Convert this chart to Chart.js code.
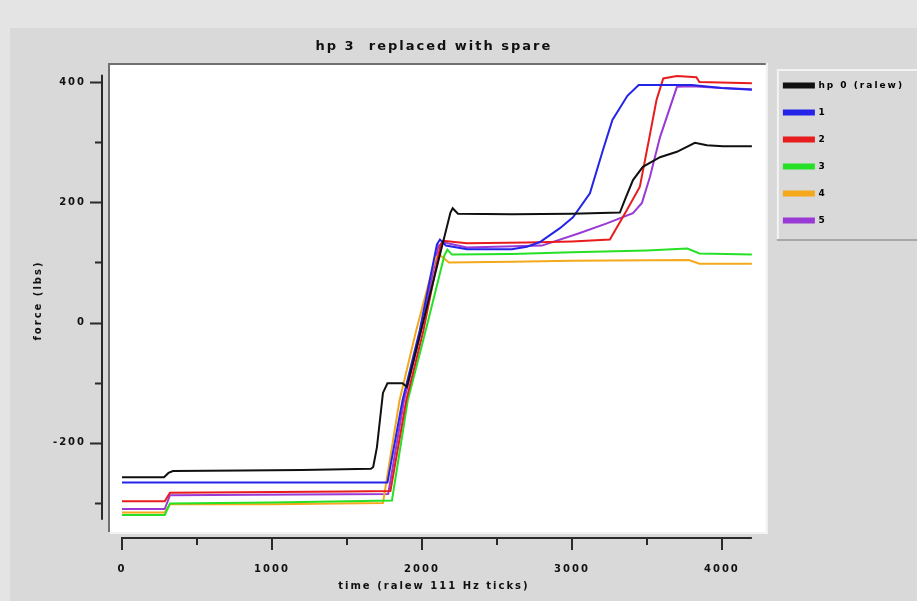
<!DOCTYPE html>
<html>
<head>
<meta charset="utf-8">
<script src="https://cdn.jsdelivr.net/npm/chart.js@4.4.0/dist/chart.umd.min.js"></script>
<style>
  html, body { margin: 0; padding: 0; background: #d9d9d9; }
  canvas { display: block; }
</style>
</head>
<body>
<canvas id="forceGraph" width="917" height="601"></canvas>
<script>
"use strict"

// traces: [time (ralew ticks), force (lbs)]
const hp0 = [[0,-257],[280,-257],[310,-250],[340,-247],[800,-246],[1200,-245],[1660,-243],[1675,-240],[1700,-207],
  [1740,-117],[1770,-101],[1870,-101],[1900,-107],[2190,183],[2205,190],[2240,181],[2600,180],[3000,181],[3320,183],
  [3353,204],[3407,237],[3473,259],[3587,275],[3700,284],[3820,299],[3900,295],[4007,293],[4200,293]];
const hp1 = [[0,-266],[1770,-266],[1870,-130],[1985,-13],[2100,130],[2120,138],[2160,128],[2300,122],[2600,122],
  [2700,126],[2787,134],[2920,157],[3007,175],[3120,215],[3207,287],[3270,337],[3370,377],[3445,395],[3800,395],
  [4000,390],[4200,387]];
const hp2 = [[0,-297],[285,-297],[320,-283],[800,-282],[1500,-281],[1790,-280],[1895,-130],[2010,-13],[2125,130],
  [2140,136],[2300,132],[2700,133],[3000,135],[3253,138],[3364,186],[3453,226],[3509,298],[3564,370],[3609,406],
  [3700,410],[3830,408],[3850,400],[4200,398]];
const hp3 = [[0,-320],[285,-320],[320,-301],[1000,-299],[1800,-296],[1905,-130],[2025,-13],[2150,112],[2170,121],
  [2200,113],[2600,114],[3000,117],[3500,120],[3770,123],[3850,115],[4200,113]];
const hp4 = [[0,-316],[285,-316],[320,-302],[1000,-302],[1740,-300],[1850,-130],[1960,-15],[2090,108],[2120,112],
  [2180,100],[2600,101],[3000,103],[3780,104],[3850,98],[4200,98]];
const hp5 = [[0,-310],[285,-310],[320,-287],[1775,-285],[1880,-130],[1995,-13],[2110,128],[2150,133],[2300,125],
  [2800,128],[3053,149],[3233,165],[3407,182],[3467,199],[3520,242],[3587,308],[3700,392],[3800,393],[4000,390],
  [4200,388]];

const traces = [hp0, hp1, hp2, hp3, hp4, hp5];
const traceNames = ['hp 0 (ralew)', '1', '2', '3', '4', '5'];
const traceColors = ['#101010', '#2424e8', '#e81c1c', '#26e026', '#f4a81a', '#9a3ad6'];

const xTickValues = [0, 1000, 2000, 3000, 4000];
const xMinorValues = [500, 1500, 2500, 3500];
const yTickValues = [-200, 0, 200, 400];
const yMinorValues = [-300, -100, 100, 300];
const xAxisSpan = [0, 4200];
const yAxisSpan = [-328, 412];

const FONT = '"DejaVu Sans", Verdana, sans-serif';
const SPACING = '2px';

// grey window, sunken white plot well, raised legend frame and the offset axes
const framePlugin = {
  id: 'frame',
  beforeUpdate: (chart) => { chart.ctx.letterSpacing = SPACING; },
  beforeDraw: (chart) => {
    const { ctx, chartArea: a } = chart;
    ctx.save();
    ctx.fillStyle = '#e4e4e4';
    ctx.fillRect(0, 0, chart.width, chart.height);
    ctx.fillStyle = '#d9d9d9';
    ctx.fillRect(10, 28, chart.width - 10, chart.height - 28);

    const l = a.left + 8, t = a.top + 2, r = a.right, b = a.bottom - 6;
    ctx.fillStyle = '#ffffff';
    ctx.fillRect(l, t, r - l, b - t);
    ctx.fillStyle = '#707070';
    ctx.fillRect(l - 2, t - 2, r - l + 2, 2);
    ctx.fillRect(l - 2, t - 2, 2, b - t + 2);
    ctx.fillStyle = '#f3f3f3';
    ctx.fillRect(l, b, r - l + 2, 2);
    ctx.fillRect(r, t - 2, 2, b - t + 4);

    const lg = chart.legend;
    if (lg && lg.legendHitBoxes && lg.legendHitBoxes.length) {
      const last = lg.legendHitBoxes[lg.legendHitBoxes.length - 1];
      const fl = lg.left + 11, ft = a.top + 6, fb = last.top + last.height + 14;
      ctx.fillStyle = '#f3f3f3';
      ctx.fillRect(fl, ft, chart.width - fl, 2);
      ctx.fillRect(fl, ft, 2, fb - ft);
      ctx.fillStyle = '#a8a8a8';
      ctx.fillRect(fl, fb, chart.width - fl, 2);
    }
    ctx.restore();
    ctx.letterSpacing = SPACING;
  },
  beforeDatasetsDraw: (chart) => {
    const { ctx, chartArea: a, scales: { x, y } } = chart;
    ctx.save();
    ctx.strokeStyle = '#2a2a2a';
    ctx.lineWidth = 2;
    ctx.beginPath();
    ctx.moveTo(a.left, y.getPixelForValue(yAxisSpan[1]));
    ctx.lineTo(a.left, y.getPixelForValue(yAxisSpan[0]));
    ctx.moveTo(x.getPixelForValue(xAxisSpan[0]) - 1, a.bottom);
    ctx.lineTo(x.getPixelForValue(xAxisSpan[1]), a.bottom);
    yTickValues.concat(yMinorValues).forEach(v => {
      const py = Math.round(y.getPixelForValue(v)) + 0.5;
      const len = yTickValues.includes(v) ? 12 : 7;
      ctx.moveTo(a.left, py);
      ctx.lineTo(a.left - len, py);
    });
    xTickValues.concat(xMinorValues).forEach(v => {
      const px = Math.round(x.getPixelForValue(v));
      const len = xTickValues.includes(v) ? 12 : 7;
      ctx.moveTo(px, a.bottom);
      ctx.lineTo(px, a.bottom + len);
    });
    ctx.stroke();
    ctx.restore();
  }
};

const tickFont = { family: FONT, size: 10, weight: 'bold' };

new Chart(document.getElementById('forceGraph'), {
  type: 'line',
  data: {
    datasets: traces.map((pts, i) => ({
      label: traceNames[i],
      data: pts.map(([x, y]) => ({ x, y })),
      borderColor: traceColors[i],
      backgroundColor: traceColors[i],
      borderWidth: 2,
      pointRadius: 0,
      tension: 0
    }))
  },
  options: {
    responsive: false,
    animation: false,
    layout: { padding: { right: 3 } },
    plugins: {
      title: {
        display: true,
        text: 'hp 3  replaced with spare',
        fullSize: false,
        color: '#111',
        font: { family: FONT, size: 13, weight: 'bold' },
        padding: { top: 39, bottom: 8.4 }
      },
      legend: {
        position: 'right',
        align: 'start',
        fullSize: false,
        labels: {
          boxWidth: 30,
          boxHeight: 4,
          padding: 18,
          color: '#000',
          font: { family: FONT, size: 9, weight: 'bold' }
        }
      },
      tooltip: { enabled: false }
    },
    scales: {
      x: {
        type: 'linear',
        min: -133.3,
        max: 4293.3,
        grid: { display: false, drawTicks: false },
        border: { display: false },
        ticks: { color: '#111', font: tickFont, padding: 25, maxRotation: 0, callback: v => String(v) },
        title: { display: true, text: 'time (ralew 111 Hz ticks)', color: '#111', font: tickFont, padding: { top: 0, bottom: 9 } },
        afterBuildTicks: s => { s.ticks = xTickValues.map(value => ({ value })); },
        afterFit: s => { s.height = 63; }
      },
      y: {
        type: 'linear',
        min: -358.2,
        max: 431.6,
        grid: { display: false, drawTicks: false },
        border: { display: false },
        ticks: { color: '#111', font: tickFont, padding: 16, callback: v => String(v) },
        title: { display: true, text: 'force (lbs)', color: '#111', font: tickFont, padding: { top: 32, bottom: 0 } },
        afterBuildTicks: s => { s.ticks = yTickValues.map(value => ({ value })); },
        afterFit: s => { s.width = 102; }
      }
    }
  },
  plugins: [framePlugin]
});
</script>
</body>
</html>
